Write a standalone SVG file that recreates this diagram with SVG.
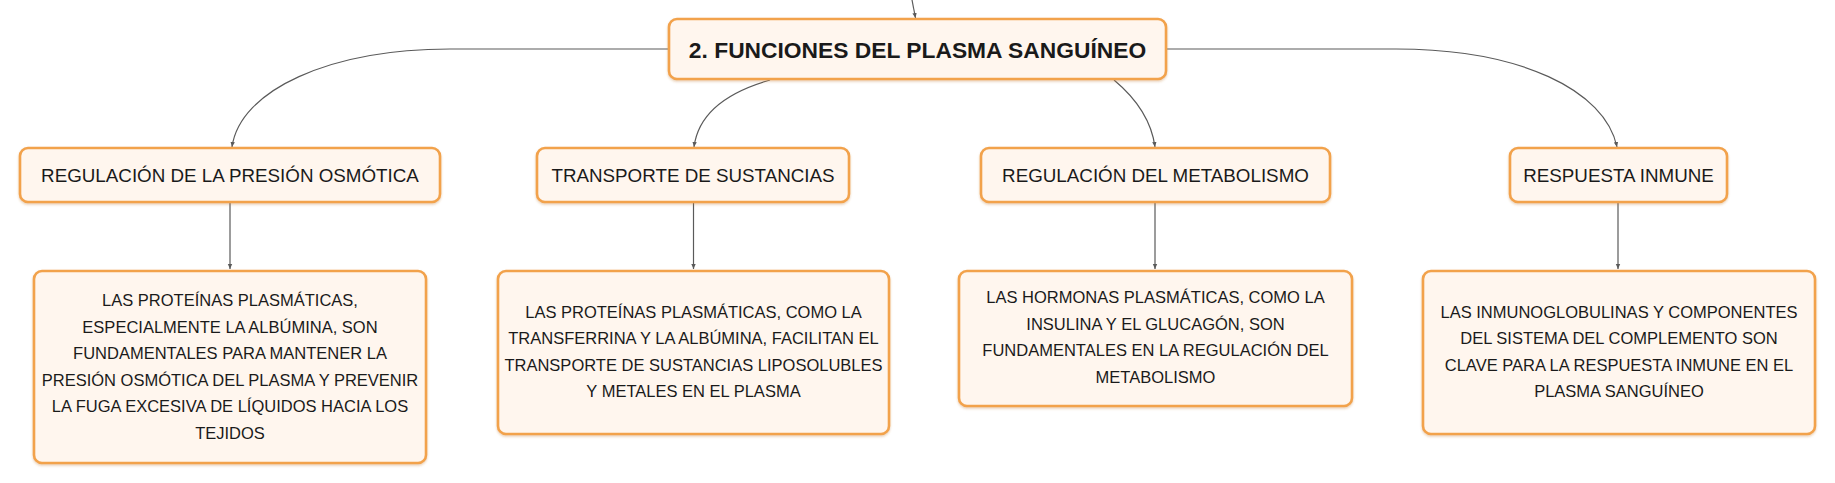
<svg xmlns="http://www.w3.org/2000/svg" width="1835" height="483" viewBox="0 0 1835 483">
<style>
.box{fill:#FFF6EE;stroke:#F2A24C;stroke-width:2.6}
.t{font-family:"Liberation Sans",Arial,sans-serif;fill:#1a1a1a;text-anchor:middle}
.title{font-size:22.8px;font-weight:bold}
.l1{font-size:18.8px}
.l2{font-size:16.5px}
.c{fill:none;stroke:#5a5a5a;stroke-width:1.2;marker-end:url(#arr)}
</style>
<defs>
<marker id="arr" markerWidth="6" markerHeight="6" refX="5" refY="3" orient="auto" markerUnits="userSpaceOnUse">
<path d="M0,0.8 L5,3 L0,5.2 Z" fill="#5a5a5a"/>
</marker>
<filter id="sh" x="-5%" y="-5%" width="110%" height="120%">
<feDropShadow dx="0" dy="1.5" stdDeviation="1" flood-color="#c07a30" flood-opacity="0.35"/>
</filter>
</defs>
<g id="connectors">
<path class="c" d="M912,0 L915.5,18"/>
<path class="c" d="M669,49 L450,49 C330,49 240,90 232,147"/>
<path class="c" d="M770,80 Q700,100 694,147"/>
<path class="c" d="M1114,80 Q1150,110 1155,147"/>
<path class="c" d="M1166,49 L1396,49 C1520,49 1605,90 1617,147"/>
<path class="c" d="M230,202 L230,269"/>
<path class="c" d="M693.5,202 L693.5,269"/>
<path class="c" d="M1155,202 L1155,269"/>
<path class="c" d="M1618,202 L1618,269"/>
</g>
<g id="main">
<rect class="box" filter="url(#sh)" x="669" y="19" width="497" height="60" rx="8"/>
<text class="t title" x="917.5" y="57.5">2. FUNCIONES DEL PLASMA SANGUÍNEO</text>
</g>
<g id="n1">
<rect class="box" filter="url(#sh)" x="20" y="148" width="420" height="54" rx="8"/>
<text class="t l1" x="230" y="181.5">REGULACIÓN DE LA PRESIÓN OSMÓTICA</text>
</g>
<g id="n2">
<rect class="box" filter="url(#sh)" x="537" y="148" width="312" height="54" rx="8"/>
<text class="t l1" x="693" y="181.5">TRANSPORTE DE SUSTANCIAS</text>
</g>
<g id="n3">
<rect class="box" filter="url(#sh)" x="981" y="148" width="349" height="54" rx="8"/>
<text class="t l1" x="1155.5" y="181.5">REGULACIÓN DEL METABOLISMO</text>
</g>
<g id="n4">
<rect class="box" filter="url(#sh)" x="1510" y="148" width="217" height="54" rx="8"/>
<text class="t l1" x="1618.5" y="181.5">RESPUESTA INMUNE</text>
</g>
<g id="d1">
<rect class="box" filter="url(#sh)" x="34" y="271" width="392" height="192" rx="8"/>
<text class="t l2" x="230" y="306">LAS PROTEÍNAS PLASMÁTICAS,</text>
<text class="t l2" x="230" y="332.6">ESPECIALMENTE LA ALBÚMINA, SON</text>
<text class="t l2" x="230" y="359.2">FUNDAMENTALES PARA MANTENER LA</text>
<text class="t l2" x="230" y="385.8">PRESIÓN OSMÓTICA DEL PLASMA Y PREVENIR</text>
<text class="t l2" x="230" y="412.4">LA FUGA EXCESIVA DE LÍQUIDOS HACIA LOS</text>
<text class="t l2" x="230" y="439">TEJIDOS</text>
</g>
<g id="d2">
<rect class="box" filter="url(#sh)" x="498" y="271" width="391" height="163" rx="8"/>
<text class="t l2" x="693.5" y="317.6">LAS PROTEÍNAS PLASMÁTICAS, COMO LA</text>
<text class="t l2" x="693.5" y="344.2">TRANSFERRINA Y LA ALBÚMINA, FACILITAN EL</text>
<text class="t l2" x="693.5" y="370.8">TRANSPORTE DE SUSTANCIAS LIPOSOLUBLES</text>
<text class="t l2" x="693.5" y="397.4">Y METALES EN EL PLASMA</text>
</g>
<g id="d3">
<rect class="box" filter="url(#sh)" x="959" y="271" width="393" height="135" rx="8"/>
<text class="t l2" x="1155.5" y="303.2">LAS HORMONAS PLASMÁTICAS, COMO LA</text>
<text class="t l2" x="1155.5" y="329.8">INSULINA Y EL GLUCAGÓN, SON</text>
<text class="t l2" x="1155.5" y="356.4">FUNDAMENTALES EN LA REGULACIÓN DEL</text>
<text class="t l2" x="1155.5" y="383">METABOLISMO</text>
</g>
<g id="d4">
<rect class="box" filter="url(#sh)" x="1423" y="271" width="392" height="163" rx="8"/>
<text class="t l2" x="1619" y="317.6">LAS INMUNOGLOBULINAS Y COMPONENTES</text>
<text class="t l2" x="1619" y="344.2">DEL SISTEMA DEL COMPLEMENTO SON</text>
<text class="t l2" x="1619" y="370.8">CLAVE PARA LA RESPUESTA INMUNE EN EL</text>
<text class="t l2" x="1619" y="397.4">PLASMA SANGUÍNEO</text>
</g>
</svg>
